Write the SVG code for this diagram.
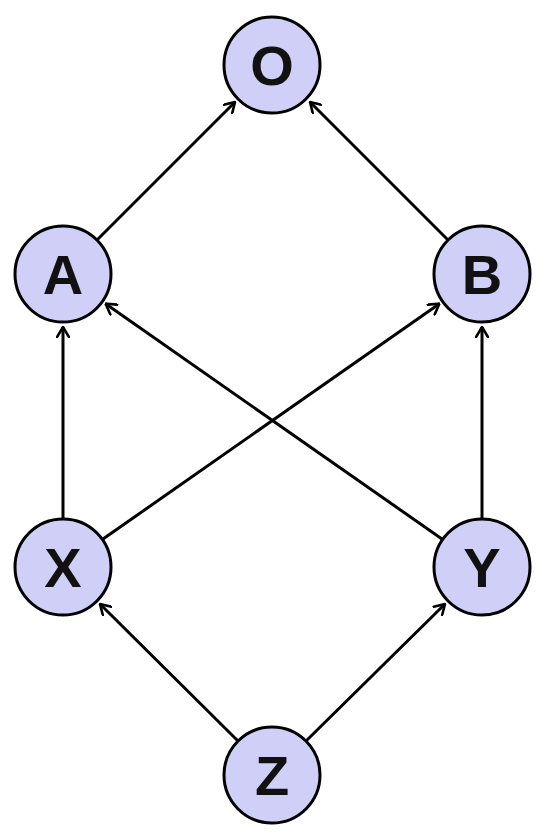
<svg xmlns="http://www.w3.org/2000/svg" width="545" height="840" viewBox="0 0 545 840">
<style>
.n circle{fill:#cfcff7;stroke:#000;stroke-width:3}
.n text{font-family:"Liberation Sans",Arial,sans-serif;font-weight:bold;font-size:56px;fill:#111;text-anchor:middle}
.e line{stroke:#000;stroke-width:3;marker-end:url(#ah)}
</style>
<defs>
<marker id="ah" markerUnits="userSpaceOnUse" viewBox="0 0 12 14" refX="11" refY="7" markerWidth="12" markerHeight="14" orient="auto">
<path d="M1,1 L11,7 L1,13" fill="none" stroke="#000" stroke-width="2.6" stroke-linecap="round" stroke-linejoin="miter"/>
</marker>
</defs>
<rect width="545" height="840" fill="#fff"/>
<g id="edges" class="e">
<line x1="97" y1="240" x2="235" y2="102"/>
<line x1="448" y1="240" x2="310" y2="102"/>
<line x1="63" y1="519" x2="63" y2="327"/>
<line x1="482" y1="519" x2="482" y2="327"/>
<line x1="442.7" y1="539.5" x2="105.6" y2="303.8"/>
<line x1="102.3" y1="539.5" x2="439.4" y2="303.8"/>
<line x1="238" y1="741" x2="100" y2="604"/>
<line x1="306" y1="741" x2="445" y2="604"/>
</g>
<g id="O" class="n"><circle cx="272" cy="65" r="48"/><text x="272" y="85">O</text></g>
<g id="A" class="n"><circle cx="63" cy="274" r="48"/><text x="63" y="294">A</text></g>
<g id="B" class="n"><circle cx="482" cy="274" r="48"/><text x="482" y="294">B</text></g>
<g id="X" class="n"><circle cx="63" cy="567" r="48"/><text x="63" y="587">X</text></g>
<g id="Y" class="n"><circle cx="482" cy="567" r="48"/><text x="482" y="587">Y</text></g>
<g id="Z" class="n"><circle cx="272" cy="775" r="48"/><text x="272" y="795">Z</text></g>
</svg>
